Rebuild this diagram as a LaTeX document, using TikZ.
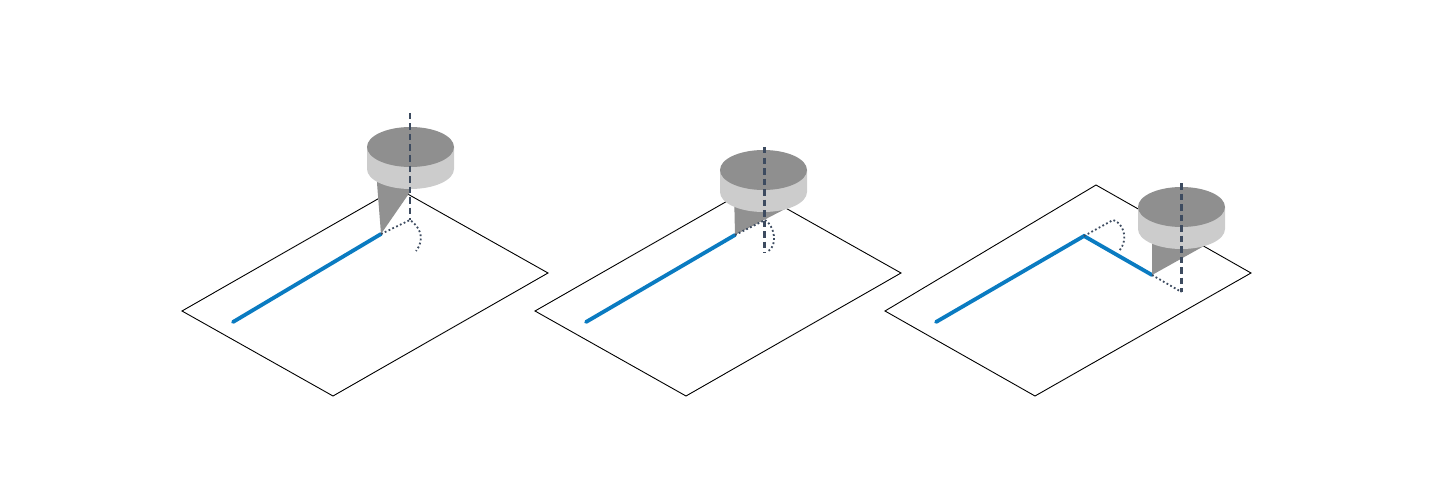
\documentclass[tikz,border=0pt]{standalone}
\tikzset{
    plate/.style={draw=black, line width=0.9pt, fill=white, line join=miter},
    toolpath/.style={draw=pathblue, line width=3.8pt, line cap=round, line join=miter},
    axisline/.style={draw=axisgray, line width=2.4pt, dash pattern=on 6.5pt off 4pt},
    guide/.style={draw=axisgray, line width=1.8pt, dash pattern=on 1.8pt off 2.4pt},
    cone/.style={fill=conegray},
    cutter/.pic={
        \fill[fill=sidegray] (-43.5,0) -- (-43.5,22) arc[start angle=180, end angle=0, x radius=43.5, y radius=20] -- (43.5,0) -- cycle;
        \fill[fill=topgray] (0,0) ellipse[x radius=43.5, y radius=20];
    }
}
\definecolor{pathblue}{HTML}{0A7BC1}
\definecolor{axisgray}{HTML}{3D4B60}
\definecolor{sidegray}{HTML}{CCCCCC}
\definecolor{topgray}{HTML}{8F8F8F}
\definecolor{conegray}{HTML}{919191}
\begin{document}
\begin{tikzpicture}[x=1pt, y=-1pt]
\useasboundingbox (0,0) rectangle (1432,500);

% first panel
\begin{scope}
\coordinate (tip1) at (381,234);
\coordinate (foot1) at (410,220);
\coordinate (swing1) at (416,251);
\coordinate (start1) at (233,322);
\draw[plate] (182,311) -- (333,396) -- (548,273) -- (397,188) -- cycle;
\draw[toolpath] (start1) -- (tip1);
\fill[cone] (377,170) -- (377,183) -- (tip1) -- (410,192) -- (410,170) -- cycle;
\pic at (410.5,147) {cutter};
\draw[axisline] (410,113) -- (foot1);
\draw[guide] (tip1) -- (foot1) .. controls (419,226) and (426,238) .. (swing1);
\end{scope}

% second panel
\begin{scope}
\coordinate (tip2) at (735,235);
\coordinate (foot2) at (765,220);
\coordinate (swing2) at (767,252);
\coordinate (start2) at (586,322);
\draw[plate] (535,311) -- (686,396) -- (901,273) -- (750,188) -- cycle;
\draw[toolpath] (start2) -- (tip2);
\fill[cone] (734,190) -- (tip2) -- (787,208) -- (787,190) -- cycle;
\pic at (763.5,170) {cutter};
\draw[axisline] (764.5,147) -- (764.5,253);
\draw[guide] (tip2) -- (foot2) .. controls (774,225) and (779,246) .. (swing2);
\end{scope}

% third panel
\begin{scope}
\coordinate (tip3) at (1152,275);
\coordinate (corner3) at (1084,236);
\coordinate (foot3) at (1181.5,292);
\coordinate (upper3) at (1113,220);
\coordinate (swing3) at (1119,251);
\coordinate (start3) at (936,322);
\draw[plate] (885,311) -- (1035,396) -- (1251,273) -- (1096,185) -- cycle;
\draw[toolpath] (start3) -- (corner3) -- (tip3);
\fill[cone] (1152,230) -- (tip3) -- (1204,246) -- (1204,230) -- cycle;
\pic at (1181.5,207) {cutter};
\draw[axisline] (1181.5,183) -- (foot3);
\draw[guide] (tip3) -- (foot3);
\draw[guide] (corner3) -- (upper3) .. controls (1122,222) and (1130,238) .. (swing3);
\end{scope}
\end{tikzpicture}
\end{document}
